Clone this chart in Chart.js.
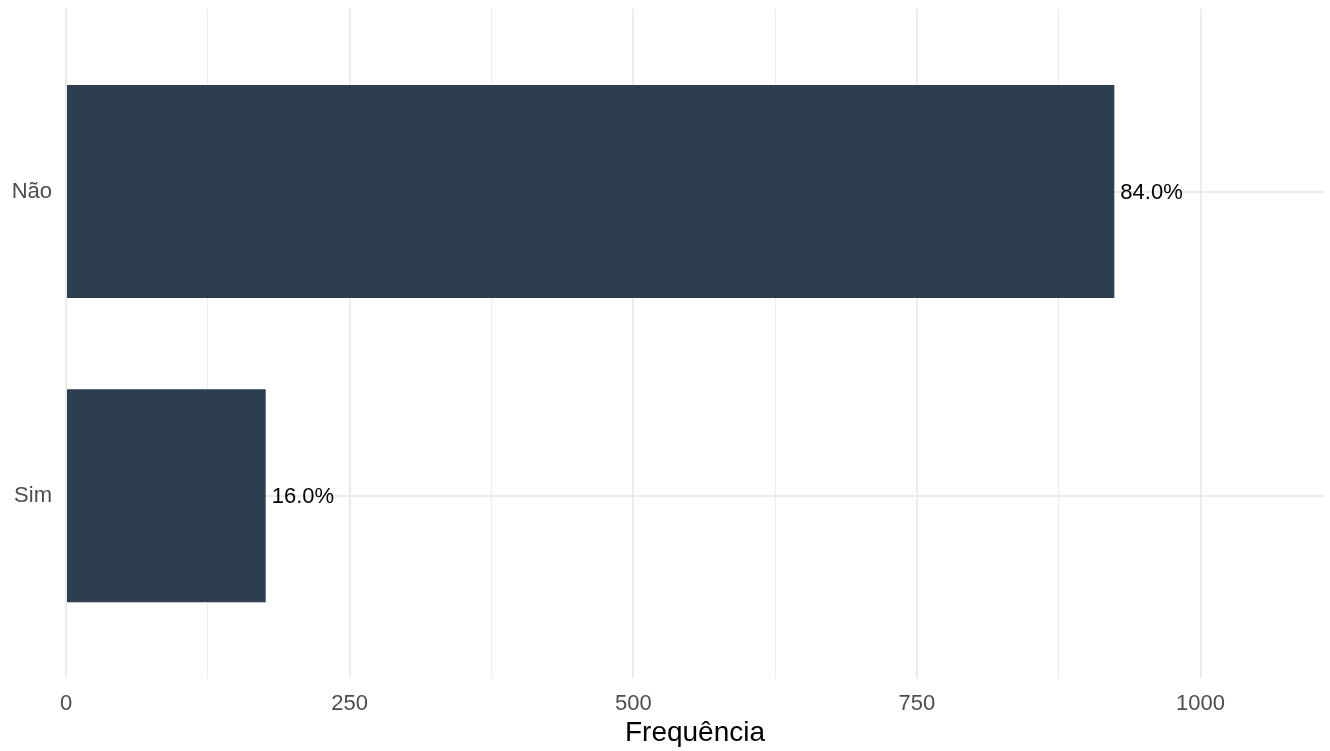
<!DOCTYPE html>
<html>
<head>
<meta charset="utf-8">
<script src="https://cdn.jsdelivr.net/npm/chart.js@4/dist/chart.umd.min.js"></script>
<style>
  html, body { margin: 0; padding: 0; background: #fff; }
  #wrap { width: 1330px; height: 751px; }
</style>
</head>
<body>
<div id="wrap"><canvas id="chart"></canvas></div>
<script>
// dados
const categories = ['Não', 'Sim'];
const counts = [924, 176];
const xStep = 125;          // grade menor a cada 125, rótulos a cada 250
const xLabelStep = 250;
const xMax = 1108.8;        // limite do eixo (máx * 1.2)

const total = counts.reduce((a, b) => a + b, 0);
const pct = counts.map(v => (v / total * 100).toFixed(1) + '%');

const FONT = '"Liberation Sans", Arial, Helvetica, sans-serif';

// rótulos de porcentagem na ponta das barras
const barLabels = {
    id: 'barLabels',
    afterDatasetsDraw(chart) {
        const ctx = chart.ctx;
        const meta = chart.getDatasetMeta(0);
        ctx.save();
        ctx.font = '22px ' + FONT;
        ctx.fillStyle = '#000';
        ctx.textAlign = 'left';
        ctx.textBaseline = 'middle';
        meta.data.forEach((bar, i) => {
            ctx.fillText(pct[i], bar.x + 6, bar.y + 1);
        });
        ctx.restore();
    }
};

const ctx = document.getElementById('chart').getContext('2d');
new Chart(ctx, {
    type: 'bar',
    data: {
        datasets: [{
            data: counts.map((v, i) => ({ x: v, y: categories.length - i })),
            backgroundColor: '#2C3E50',
            borderWidth: 0,
            barPercentage: 0.7,
            categoryPercentage: 1
        }]
    },
    options: {
        indexAxis: 'y',
        responsive: true,
        maintainAspectRatio: false,
        animation: false,
        layout: { padding: { top: 9, right: 6, left: 0, bottom: 0 } },
        plugins: { legend: { display: false }, tooltip: { enabled: false } },
        scales: {
            x: {
                type: 'linear',
                min: 0,
                max: xMax,
                border: { display: false },
                grid: {
                    color: '#EBEBEB',
                    drawTicks: false,
                    lineWidth: c => (c.tick && c.tick.value % xLabelStep === 0) ? 2 : 1
                },
                ticks: {
                    stepSize: xStep,
                    includeBounds: false,
                    autoSkip: false,
                    maxRotation: 0,
                    padding: 12,
                    color: '#4D4D4D',
                    font: { family: FONT, size: 22 },
                    callback: v => (v % xLabelStep === 0 ? v : '')
                },
                title: {
                    display: true,
                    text: 'Frequência',
                    color: '#000',
                    font: { family: FONT, size: 28 },
                    padding: { top: 0, bottom: 1 }
                },
                afterFit: s => {
                    s.height = 72.7;
                    s.paddingLeft = 0;
                    s.paddingRight = 0;
                }
            },
            y: {
                type: 'linear',
                min: 0.4,
                max: categories.length + 0.6,
                offset: false,
                border: { display: false },
                grid: { color: '#EBEBEB', lineWidth: 2, drawTicks: false, offset: false },
                afterBuildTicks: s => {
                    s.ticks = categories.map((c, i) => ({ value: categories.length - i }));
                },
                ticks: {
                    autoSkip: false,
                    padding: 14,
                    color: '#4D4D4D',
                    font: { family: FONT, size: 22 },
                    callback: v => categories[categories.length - v]
                },
                afterFit: s => {
                    s.width = 66;
                    s.paddingTop = 0;
                    s.paddingBottom = 0;
                }
            }
        }
    },
    plugins: [barLabels]
});
</script>
</body>
</html>
